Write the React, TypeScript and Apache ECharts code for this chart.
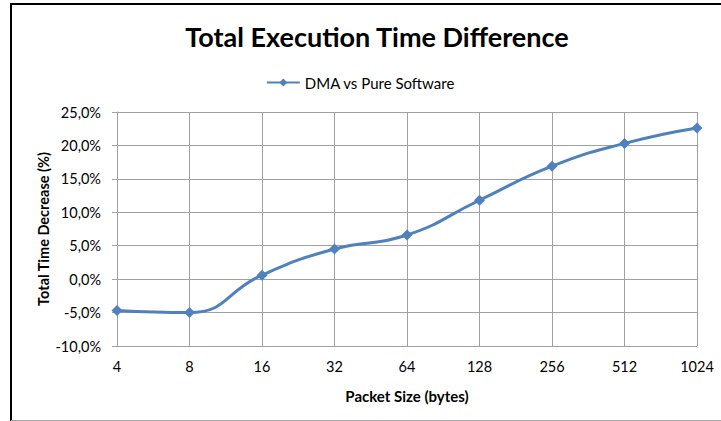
import React, { useEffect, useRef } from "react";
import * as echarts from "echarts";

const categories = ["4", "8", "16", "32", "64", "128", "256", "512", "1024"];
const seriesName = "DMA vs Pure Software";
const values = [-4.7, -5.0, 0.6, 4.5, 6.6, 11.8, 16.9, 20.3, 22.6];
const yTicks = { min: -10, max: 25, interval: 5 };
const titleText = "Total Execution Time Difference";
const xAxisTitle = "Packet Size (bytes)";
const yAxisTitle = "Total Time Decrease (%)";

const FONT = "Lato, 'Open Sans', sans-serif";

export default function App() {
  const ref = useRef<HTMLDivElement>(null);
  useEffect(() => {
    if (!ref.current) return;
    const chart = echarts.init(ref.current, null, { renderer: "svg" });
    chart.setOption({
      animation: false,
      backgroundColor: "#ffffff",
      textStyle: { fontFamily: FONT },
      title: {
        text: titleText,
        left: 372,
        textAlign: "center",
        top: 18,
        textStyle: { fontSize: 27, fontWeight: "bold", color: "#000", fontFamily: FONT },
      },
      legend: {
        data: [seriesName],
        top: 70,
        left: "center",
        itemWidth: 33,
        itemHeight: 10,
        itemGap: 4,
        textStyle: { fontSize: 15, color: "#000", fontFamily: FONT },
      },
      graphic: [
        { type: "line", shape: { x1: 11, y1: 4, x2: 721, y2: 4 }, style: { stroke: "#000", lineWidth: 2 } },
        { type: "line", shape: { x1: 11, y1: 3, x2: 11, y2: 421 }, style: { stroke: "#000", lineWidth: 2 } },
        { type: "line", shape: { x1: 11, y1: 420.5, x2: 721, y2: 420.5 }, style: { stroke: "#a6a6a6", lineWidth: 1 } },
      ],
      grid: { left: 117, right: 24, top: 112, bottom: 75, containLabel: false },
      xAxis: {
        type: "category",
        data: categories,
        boundaryGap: false,
        name: xAxisTitle,
        nameLocation: "middle",
        nameGap: 42,
        nameMoveOverlap: false,
        nameTextStyle: { fontSize: 15, fontWeight: "bold", color: "#000", fontFamily: FONT },
        axisLine: { show: true, lineStyle: { color: "#a0a0a0", width: 1 } },
        axisTick: { show: false },
        axisLabel: { color: "#000", fontSize: 14.5, margin: 13, fontFamily: FONT },
        splitLine: { show: true, lineStyle: { color: "#a0a0a0", width: 1 } },
      },
      yAxis: {
        type: "value",
        min: yTicks.min,
        max: yTicks.max,
        interval: yTicks.interval,
        name: yAxisTitle,
        nameLocation: "middle",
        nameGap: 66,
        nameMoveOverlap: false,
        nameRotate: 90,
        nameTextStyle: { fontSize: 14.5, fontWeight: "bold", color: "#000", fontFamily: FONT },
        axisLine: { show: true, lineStyle: { color: "#a0a0a0", width: 1 } },
        axisTick: { show: true, length: 5, lineStyle: { color: "#a0a0a0" } },
        axisLabel: {
          color: "#000",
          fontSize: 14.5,
          margin: 16,
          fontFamily: FONT,
          formatter: (v: number) => v.toFixed(1).replace(".", ",") + "%",
        },
        splitLine: { show: true, lineStyle: { color: "#a0a0a0", width: 1 } },
      },
      series: [
        {
          name: seriesName,
          type: "line",
          data: values,
          smooth: 0.5,
          symbol: "diamond",
          symbolSize: 11,
          showSymbol: true,
          itemStyle: { color: "#4f81bd" },
          lineStyle: { color: "#4f81bd", width: 3 },
        },
      ],
    });
    return () => chart.dispose();
  }, []);
  return (
    <div
      ref={ref}
      style={{ position: "fixed", left: 0, top: 0, width: 721, height: 421 }}
    />
  );
}
